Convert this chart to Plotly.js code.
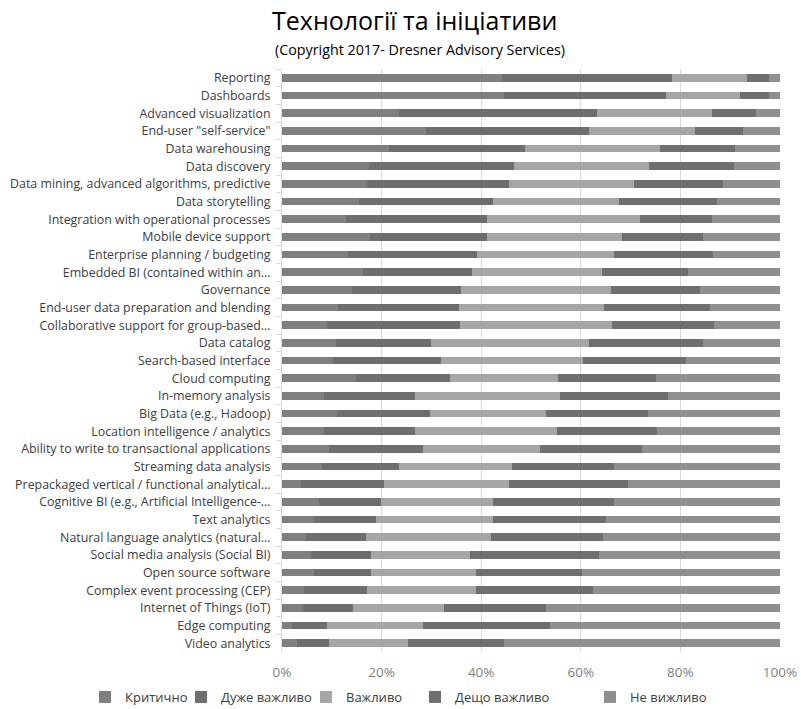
<!DOCTYPE html>
<html>
<head>
<meta charset="utf-8">
<script src="https://cdn.plot.ly/plotly-3.0.1.min.js"></script>
<style>html,body{margin:0;padding:0;background:#fff;}#chart{width:801px;height:709px;}</style>
</head>
<body>
<div id="chart"></div>
<script>
const categories = [
  "Reporting","Dashboards","Advanced visualization","End-user \"self-service\"","Data warehousing",
  "Data discovery","Data mining, advanced algorithms, predictive","Data storytelling",
  "Integration with operational processes","Mobile device support","Enterprise planning / budgeting",
  "Embedded BI (contained within an…","Governance","End-user data preparation and blending",
  "Collaborative support for group-based…","Data catalog","Search-based interface","Cloud computing",
  "In-memory analysis","Big Data (e.g., Hadoop)","Location intelligence / analytics",
  "Ability to write to transactional applications","Streaming data analysis",
  "Prepackaged vertical / functional analytical…","Cognitive BI (e.g., Artificial Intelligence-…",
  "Text analytics","Natural language analytics (natural…","Social media analysis (Social BI)",
  "Open source software","Complex event processing (CEP)","Internet of Things (IoT)",
  "Edge computing","Video analytics"
];
const seriesNames = ["Критично","Дуже важливо","Важливо","Дещо важливо","Не вижливо"];
const critical = [44.2,44.5,23.4,29.0,21.5,17.5,17.1,15.5,12.9,17.6,13.2,16.2,14.0,11.3,9.1,10.8,10.2,14.9,8.5,11.1,8.5,9.5,8.0,3.9,7.4,6.5,4.8,5.8,6.5,4.5,4.3,2.0,3.1];
const veryImportant = [34.2,32.7,39.8,32.6,27.3,29.1,28.5,26.8,28.3,23.5,26.0,21.9,21.9,24.3,26.6,19.1,21.8,18.9,18.3,18.6,18.2,18.9,15.4,16.6,12.5,12.4,12.1,12.0,11.3,12.5,9.9,7.0,6.3];
const important = [14.9,14.8,23.1,21.3,27.2,27.1,25.1,25.4,30.7,27.1,27.5,26.2,30.1,29.1,30.5,31.7,28.5,21.7,29.0,23.4,28.5,23.4,22.8,25.1,22.4,23.4,25.1,20.0,21.1,21.9,18.3,19.4,16.0];
const somewhat = [4.4,5.7,8.9,9.6,15.0,17.1,17.9,19.6,14.4,16.3,19.8,17.2,17.9,21.2,20.5,22.9,20.6,19.5,21.8,20.3,20.2,20.4,20.5,23.9,24.3,22.8,22.5,25.9,21.4,23.5,20.6,25.4,19.2];
const notImportant = [2.3,2.3,4.8,7.5,9.0,9.2,11.4,12.7,13.7,15.5,13.5,18.5,16.1,14.1,13.3,15.5,18.9,25.0,22.4,26.6,24.6,27.8,33.3,30.5,33.4,34.9,35.5,36.3,39.7,37.6,46.9,46.2,55.4];
const xTickVals = [0,20,40,60,80,100];
const xTickText = ["0%","20%","40%","60%","80%","100%"];

const seriesValues = [critical, veryImportant, important, somewhat, notImportant];
const colors = ["#7f7f7f","#6e6e6e","#a6a6a6","#6f6f6f","#8f8f8f"];
const legendIds = ["legend","legend2","legend3","legend4","legend5"];
const legendX = [85, 181, 306, 415, 590];

const traces = seriesValues.map((vals, i) => ({
  type: "bar",
  orientation: "h",
  name: seriesNames[i],
  y: categories,
  x: vals,
  marker: {color: colors[i], line: {width: 0}},
  width: 0.45,
  legend: legendIds[i],
  hoverinfo: "x+y+name"
}));

const layout = {
  width: 801,
  height: 709,
  barmode: "stack",
  paper_bgcolor: "#ffffff",
  plot_bgcolor: "#ffffff",
  margin: {l: 282, r: 21, t: 69, b: 57},
  font: {family: "Open Sans, sans-serif", color: "#404040"},
  showlegend: true,
  xaxis: {
    range: [0, 100],
    tickvals: xTickVals,
    ticktext: xTickText,
    showgrid: true,
    gridcolor: "#d9d9d9",
    gridwidth: 1,
    zeroline: false,
    showline: false,
    tickfont: {size: 13.5, color: "#7f7f7f"},
    ticks: "",
    ticklabelstandoff: 10,
    fixedrange: true
  },
  yaxis: {
    range: [32.5, -0.5],
    type: "category",
    showgrid: false,
    zeroline: false,
    showline: true,
    linecolor: "#d9d9d9",
    ticks: "outside",
    tickson: "boundaries",
    ticklen: 5,
    tickcolor: "#d9d9d9",
    tickfont: {size: 12.4, color: "#404040"},
    ticklabelstandoff: 8,
    automargin: false,
    fixedrange: true
  },
  annotations: [
    {text: "Технології та ініціативи", xref: "paper", x: 0.267, xanchor: "center",
     yref: "paper", y: 1.084, yanchor: "middle", showarrow: false,
     font: {size: 25, color: "#000000", family: "Open Sans, sans-serif"}},
    {text: "(Copyright 2017- Dresner Advisory Services)", xref: "paper", x: 0.277, xanchor: "center",
     yref: "paper", y: 1.033, yanchor: "middle", showarrow: false,
     font: {size: 14.3, color: "#000000", family: "Open Sans, sans-serif"}}
  ]
};

legendIds.forEach((id, i) => {
  layout[id] = {
    orientation: "h",
    xref: "container", yref: "container",
    x: legendX[i] / 801, xanchor: "left",
    y: (709 - 697) / 709, yanchor: "middle",
    font: {size: 13, color: "#404040"},
    bgcolor: "rgba(0,0,0,0)",
    itemwidth: 30,
    tracegroupgap: 0
  };
});

Plotly.newPlot("chart", traces, layout, {displayModeBar: false, staticPlot: true});
</script>
</body>
</html>
